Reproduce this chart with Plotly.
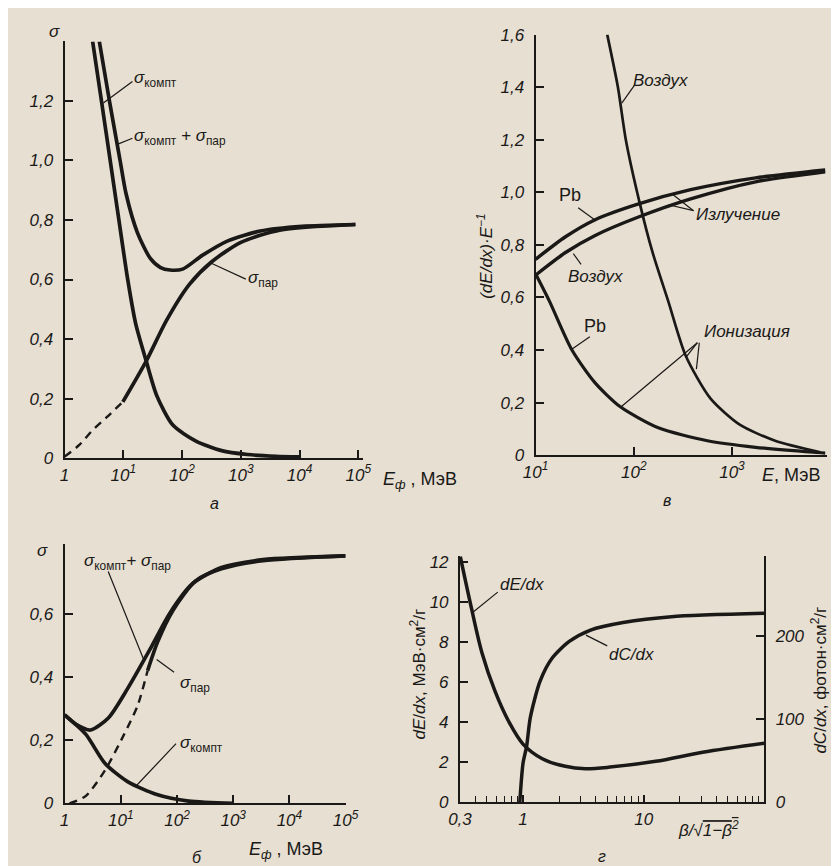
import plotly.graph_objects as go

W, H = 839, 866
BG = '#e6dfd2'
INK = '#1b1917'
FONT = 'Liberation Sans, Arial, sans-serif'

# ---------------- Panel а : sigma vs E_ph (MeV) ----------------
a_compt_E = [3.0, 4.24, 5.97, 8.4, 11.8, 16.2, 24.6, 37, 69.6, 169, 470, 1290, 4000, 10000]
a_compt_s = [1.40, 1.20, 1.00, 0.80, 0.603, 0.452, 0.325, 0.210, 0.111, 0.058, 0.025, 0.012, 0.006, 0.004]
a_sum_E = [3.9, 5.8, 8.8, 11.1, 17.4, 29, 43, 62, 102, 220, 600, 2140, 11000, 89000]
a_sum_s = [1.40, 1.20, 1.00, 0.889, 0.757, 0.670, 0.640, 0.632, 0.635, 0.681, 0.730, 0.763, 0.779, 0.785]
a_par_dash_E = [1.0, 1.8, 2.9, 5.4, 9.8]
a_par_dash_s = [0.005, 0.045, 0.091, 0.140, 0.189]
a_par_E = [9.8, 24.5, 54, 132, 316, 1000, 4570, 89000]
a_par_s = [0.189, 0.326, 0.462, 0.583, 0.659, 0.725, 0.766, 0.785]
a_xticks = [1, 10, 100, 1000, 10000, 100000]
a_xtext = ['1', '10<sup>1</sup>', '10<sup>2</sup>', '10<sup>3</sup>', '10<sup>4</sup>', '10<sup>5</sup>']
a_yticks = [0, 0.2, 0.4, 0.6, 0.8, 1.0, 1.2]
a_ytext = ['0', '0,2', '0,4', '0,6', '0,8', '1,0', '1,2']

# ---------------- Panel в : (dE/dx)/E vs E (MeV) ----------------
b_radPb_E = [10, 20, 40, 110, 380, 1740, 8900]
b_radPb_v = [0.745, 0.830, 0.895, 0.955, 1.010, 1.055, 1.085]
b_radAir_E = [10, 20, 40, 110, 380, 1740, 8900]
b_radAir_v = [0.685, 0.770, 0.835, 0.905, 0.975, 1.040, 1.078]
b_ionPb_E = [10, 13.8, 23.4, 39.8, 72.4, 178, 562, 1740, 6760, 8900]
b_ionPb_v = [0.690, 0.587, 0.401, 0.278, 0.185, 0.104, 0.055, 0.030, 0.011, 0.008]
b_ionAir_E = [53.7, 69, 83, 115, 155, 224, 339, 603, 1200, 2750, 7940]
b_ionAir_v = [1.60, 1.40, 1.20, 0.959, 0.773, 0.587, 0.377, 0.216, 0.116, 0.055, 0.011]
b_xticks = [10, 100, 1000]
b_xtext = ['10<sup>1</sup>', '10<sup>2</sup>', '10<sup>3</sup>']
b_yticks = [0, 0.2, 0.4, 0.6, 0.8, 1.0, 1.2, 1.4, 1.6]
b_ytext = ['0', '0,2', '0,4', '0,6', '0,8', '1,0', '1,2', '1,4', '1,6']

# ---------------- Panel б : sigma vs E_ph (MeV) ----------------
c_sum_E = [1.0, 1.6, 2.9, 6.0, 13.2, 33, 74, 186, 617, 3390, 100000]
c_sum_s = [0.280, 0.250, 0.232, 0.270, 0.363, 0.487, 0.601, 0.694, 0.746, 0.771, 0.783]
c_par_dash_E = [1.22, 2.37, 5.25, 11.5, 20, 30]
c_par_dash_s = [0.0, 0.023, 0.105, 0.219, 0.31, 0.42]
c_par_E = [30, 45, 85, 214, 617, 3390, 100000]
c_par_s = [0.42, 0.51, 0.611, 0.704, 0.742, 0.768, 0.783]
c_compt_E = [1.0, 2.37, 5.25, 13.2, 43.7, 162, 1000]
c_compt_s = [0.280, 0.219, 0.126, 0.069, 0.028, 0.007, 0.0]
c_xticks = [1, 10, 100, 1000, 10000, 100000]
c_xtext = ['1', '10<sup>1</sup>', '10<sup>2</sup>', '10<sup>3</sup>', '10<sup>4</sup>', '10<sup>5</sup>']
c_yticks = [0, 0.2, 0.4, 0.6]
c_ytext = ['0', '0,2', '0,4', '0,6']

# ---------------- Panel г : dE/dx and dC/dx vs beta/sqrt(1-beta^2) ----------------
d_dEdx_x = [0.302, 0.372, 0.457, 0.589, 0.759, 1.0, 1.445, 2.24, 3.3, 5.25, 12.6, 30.9, 100]
d_dEdx_v = [12.26, 9.74, 7.46, 5.51, 4.05, 2.91, 2.18, 1.80, 1.68, 1.76, 2.05, 2.50, 2.95]
d_dCdx_x = [0.94, 1.0, 1.07, 1.15, 1.38, 1.74, 2.4, 3.63, 6.76, 17.0, 100]
d_dCdx_v = [0, 47, 67, 102, 145, 173, 193, 207, 216, 223, 227]
d_xticks = [0.3, 1, 10]
d_xtext = ['0,3', '1', '10']
d_xminor = [0.4, 0.5, 0.6, 0.7, 0.8, 0.9, 2, 3, 4, 5, 6, 7, 8, 9,
            20, 30, 40, 50, 60, 70, 80, 90, 100]
d_yticks = [0, 2, 4, 6, 8, 10, 12]
d_ytext = ['0', '2', '4', '6', '8', '10', '12']
d_y2ticks = [0, 100, 200]
d_y2text = ['0', '100', '200']


def fx(p):
    return p / W


def fy(p):
    return 1 - p / H


fig = go.Figure()


def curve(x, y, xa, ya, width=3.7, dash='solid', smoothing=0.7):
    fig.add_trace(go.Scatter(
        x=x, y=y, xaxis=xa, yaxis=ya, mode='lines',
        line=dict(color=INK, width=width, dash=dash, shape='spline', smoothing=smoothing),
        showlegend=False, hoverinfo='skip'))


curve(a_compt_E, a_compt_s, 'x', 'y')
curve(a_sum_E, a_sum_s, 'x', 'y')
curve(a_par_dash_E, a_par_dash_s, 'x', 'y', width=2.4, dash='8px,6px')
curve(a_par_E, a_par_s, 'x', 'y')

curve(b_radPb_E, b_radPb_v, 'x2', 'y2', width=3.4)
curve(b_radAir_E, b_radAir_v, 'x2', 'y2', width=3.4)
curve(b_ionPb_E, b_ionPb_v, 'x2', 'y2', width=3.2)
curve(b_ionAir_E, b_ionAir_v, 'x2', 'y2', width=2.7)

curve(c_sum_E, c_sum_s, 'x3', 'y3')
curve(c_par_dash_E, c_par_dash_s, 'x3', 'y3', width=2.4, dash='8px,6px')
curve(c_par_E, c_par_s, 'x3', 'y3')
curve(c_compt_E, c_compt_s, 'x3', 'y3')

curve(d_dEdx_x, d_dEdx_v, 'x4', 'y4', width=3.5, smoothing=0.9)
curve(d_dCdx_x, d_dCdx_v, 'x4', 'y5', width=3.5)

tickfont = dict(family=FONT, size=17, color=INK, style='italic')


def xax(domain, rng, tv, tt, anchor):
    return dict(type='log', domain=domain, range=rng, anchor=anchor,
                showline=True, linecolor=INK, linewidth=2,
                ticks='inside', ticklen=8, tickwidth=1.6, tickcolor=INK,
                tickmode='array', tickvals=tv, ticktext=tt, tickfont=tickfont,
                showgrid=False, zeroline=False, fixedrange=True)


def yax(domain, rng, tv, tt, anchor, side='left', overlaying=None):
    d = dict(domain=domain, range=rng, anchor=anchor, side=side,
             showline=True, linecolor=INK, linewidth=2,
             ticks='inside', ticklen=8, tickwidth=1.6, tickcolor=INK,
             tickmode='array', tickvals=tv, ticktext=tt, tickfont=tickfont,
             ticklabelstandoff=6,
             showgrid=False, zeroline=False, fixedrange=True)
    if overlaying:
        d['overlaying'] = overlaying
    return d


x4 = xax([fx(453), fx(767)], [-0.5229, 2.0], d_xticks, d_xtext, 'y4')
x4['ticklen'] = 7
x4['minor'] = dict(tickmode='array', tickvals=d_xminor, ticks='inside',
                   ticklen=6, tickwidth=1.4, tickcolor=INK, showgrid=False)

fig.update_layout(
    width=W, height=H,
    margin=dict(l=0, r=0, t=0, b=0),
    paper_bgcolor=BG, plot_bgcolor='rgba(0,0,0,0)',
    showlegend=False,
    font=dict(family=FONT, color=INK, size=17),
    xaxis=xax([fx(45), fx(353)], [0, 5.08], a_xticks, a_xtext, 'y'),
    yaxis=yax([fy(451), fy(25)], [0, 1.4], a_yticks, a_ytext, 'x'),
    xaxis2=xax([fx(531), fx(832)], [1, 3.97], b_xticks, b_xtext, 'y2'),
    yaxis2=yax([fy(448), fy(18)], [0, 1.6], b_yticks, b_ytext, 'x2'),
    xaxis3=xax([fx(45), fx(335)], [0, 5.0], c_xticks, c_xtext, 'y3'),
    yaxis3=yax([fy(804), fy(539)], [0, 0.82], c_yticks, c_ytext, 'x3'),
    xaxis4=x4,
    yaxis4=yax([fy(803), fy(551)], [0, 12.3], d_yticks, d_ytext, 'x4'),
    yaxis5=yax([fy(803), fy(551)], [0, 296], d_y2ticks, d_y2text, 'x4',
               side='right', overlaying='y4'),
)

S = 'σ'
ann = []


def text(x, y, t, size=17, xanchor='left', italic=True, angle=0):
    ann.append(dict(x=fx(x), y=fy(y), xref='paper', yref='paper', text=t,
                    showarrow=False, xanchor=xanchor, yanchor='middle',
                    textangle=angle,
                    font=dict(family=FONT, size=size, color=INK,
                              style='italic' if italic else 'normal')))


shapes = []


def leader(x0, y0, x1, y1):
    shapes.append(dict(type='line', xref='paper', yref='paper',
                       x0=fx(x0), y0=fy(y0), x1=fx(x1), y1=fy(y1),
                       line=dict(color=INK, width=1.2)))


def sub(s):
    return '<sub><span style="font-style:normal">' + s + '</span></sub>'


# Panel а labels
text(35, 15, S, xanchor='center')
text(115, 63, S + sub('компт'))
text(115, 123, S + sub('компт') + ' + ' + S + sub('пар'))
text(232, 268, S + sub('пар'))
leader(85, 88, 115, 66)
leader(100, 130, 115, 124)
leader(197, 252, 232, 268)
text(372, 474, '<i>E</i><sub><i>ф</i></sub> , МэВ', italic=False, size=18)
text(200, 497, 'а', xanchor='center', size=16)

# Panel в labels
text(478, 245, '(<i>dE</i>/<i>dx</i>)·<i>E</i><sup>−1</sup>', xanchor='center', angle=-90)
text(630, 65, 'Воздух')
leader(620, 88, 633, 70)
text(567, 182, 'Pb', xanchor='center', italic=False, size=18)
leader(575, 195, 593, 208)
text(695, 202, 'Излучение')
leader(694, 198, 672, 181)
leader(694, 198, 668, 192)
text(562, 265, 'Воздух')
leader(570, 242, 578, 253)
text(592, 316, 'Pb', xanchor='center', italic=False, size=18)
leader(568, 340, 587, 327)
text(703, 322, 'Ионизация')
leader(698, 333, 620, 398)
leader(698, 333, 687, 347)
leader(700, 333, 697, 360)
text(763, 468, '<i>E</i>, МэВ', italic=False, size=18)
text(667, 494, 'в', xanchor='center', size=16)

# Panel б labels
text(22, 545, S, xanchor='center')
text(63, 557, S + sub('компт') + '+ ' + S + sub('пар'))
leader(90, 567, 127, 658)
text(162, 682, S + sub('пар'))
leader(158, 670, 140, 657)
text(162, 743, S + sub('компт'))
leader(160, 743, 118, 787)
text(233, 852, '<i>E</i><sub><i>ф</i></sub> , МэВ', italic=False, size=18)
text(182, 859, 'б', xanchor='center', size=16)

# Panel г labels
text(410, 672, '<i>dE</i>/<i>dx</i>, МэВ·см<sup>2</sup>/г', xanchor='center', italic=False, angle=-90)
text(824, 678, '<i>dC</i>/<i>dx</i>, фотон·см<sup>2</sup>/г', xanchor='center', italic=False, angle=-90)
text(492, 580, 'dE/dx')
leader(467, 608, 492, 588)
text(605, 652, 'dC/dx')
leader(583, 632, 605, 643)
text(676, 830, 'β/√<span style="text-decoration:overline">1−β<sup>2</sup></span>')
text(600, 858, 'г', xanchor='center', size=16)

fig.update_layout(annotations=ann, shapes=shapes)
fig.write_html('out.html')
